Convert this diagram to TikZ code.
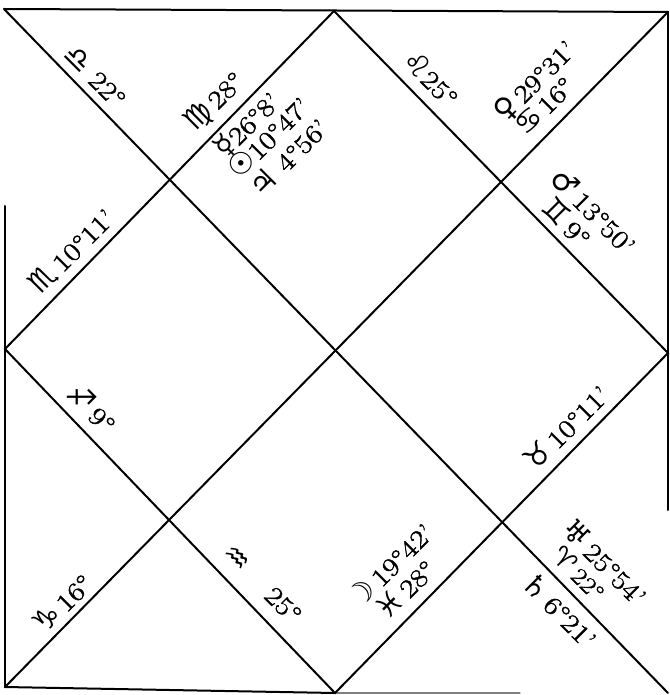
\documentclass[tikz,border=0pt]{standalone}
\usepackage{fontspec}
\setmainfont{Latin Modern Roman}[FakeStretch=1.2, FakeBold=1.6]
\newfontfamily\symf{DejaVu Sans}[Scale=1.15]
\newcommand{\sy}[1]{{\symf #1}}
\begin{document}
\begin{tikzpicture}[x=0.75pt,y=-0.75pt,
  edge/.style={line width=1.5pt, line cap=round},
  lbl/.style={inner sep=0pt, font=\fontsize{19.5}{21}\selectfont},
  up/.style={lbl, rotate=45},
  down/.style={lbl, rotate=-45}]
\fill[white] (0,0) rectangle (670,695);
\useasboundingbox (0,0) rectangle (670,695);
% corners and midpoints
\coordinate (TL) at (4,9);
\coordinate (TR) at (668,12);
\coordinate (BR) at (668,693);
\coordinate (BL) at (5,687);
\coordinate (T) at (334,11);
\coordinate (R) at (668,353);
\coordinate (B) at (335,693);
\coordinate (L) at (5,349);
\coordinate (Ltop) at (5,206);
\coordinate (Rbot) at (668,510);
\coordinate (Bend) at (520,693);
% frame (as printed)
\draw[edge] (TL) -- (TR);
\draw[edge] (TR) -- (Rbot);
\draw[edge] (Ltop) -- (BL);
\draw[edge] (BL) -- (B);
\draw[edge, line width=0.8pt, black!50] (B) -- (Bend);
% diagonals
\draw[edge] (TL) -- (BR);
\draw[edge] (TR) -- (BL);
% inner diamond
\draw[edge] (T) -- (R) -- (B) -- (L) -- cycle;
% labels
\node[down] (libra) at (95,76) {\sy{♎}\ 22°};
\node[up] (virgo) at (215,102) {\sy{♍}\,28°};
\node[up] (mercury) at (247,125) {\sy{☿}26°8'};
\node[up] (sun) at (268,137) {\sy{☉}10°47'};
\node[up] (jupiter) at (288,157) {\sy{♃}\ 4°56'};
\node[down] (leo) at (431,78) {\sy{♌}25°};
\node[up] (venus) at (535,81) {\sy{♀}\,29°31'};
\node[up] (cancer) at (544,106) {\sy{♋}\,16°};
\node[down] (mars) at (594,211) {\sy{♂}\,13°50'};
\node[down] (gemini) at (567,222) {\sy{♊}\,9°};
\node[up] (scorpio) at (72,251) {\sy{♏}\,10°11'};
\node[down] (sagitt) at (92,408) {\sy{♐}\,9°};
\node[up] (capri) at (62,603) {\sy{♑}\,16°};
\node[down] (aquar) at (236,559) {\sy{♒}};
\node[down] (aquardeg) at (283,605) {25°};
\node[up] (moon) at (390,565) {\sy{☽}\,19°42'};
\node[up] (pisces) at (405,589) {\sy{♓}\,28°};
\node[down] (uranus) at (605,562) {\sy{♅}\,25°54'};
\node[down, font=\fontsize{17.5}{19}\selectfont] (aries) at (579,573) {\sy{♈}\,22°};
\node[down] (saturn) at (560,610) {\sy{♄}\,6°21'};
\node[up] (taurus) at (566,427) {\sy{♉}\,10°11'};
\end{tikzpicture}
\end{document}
